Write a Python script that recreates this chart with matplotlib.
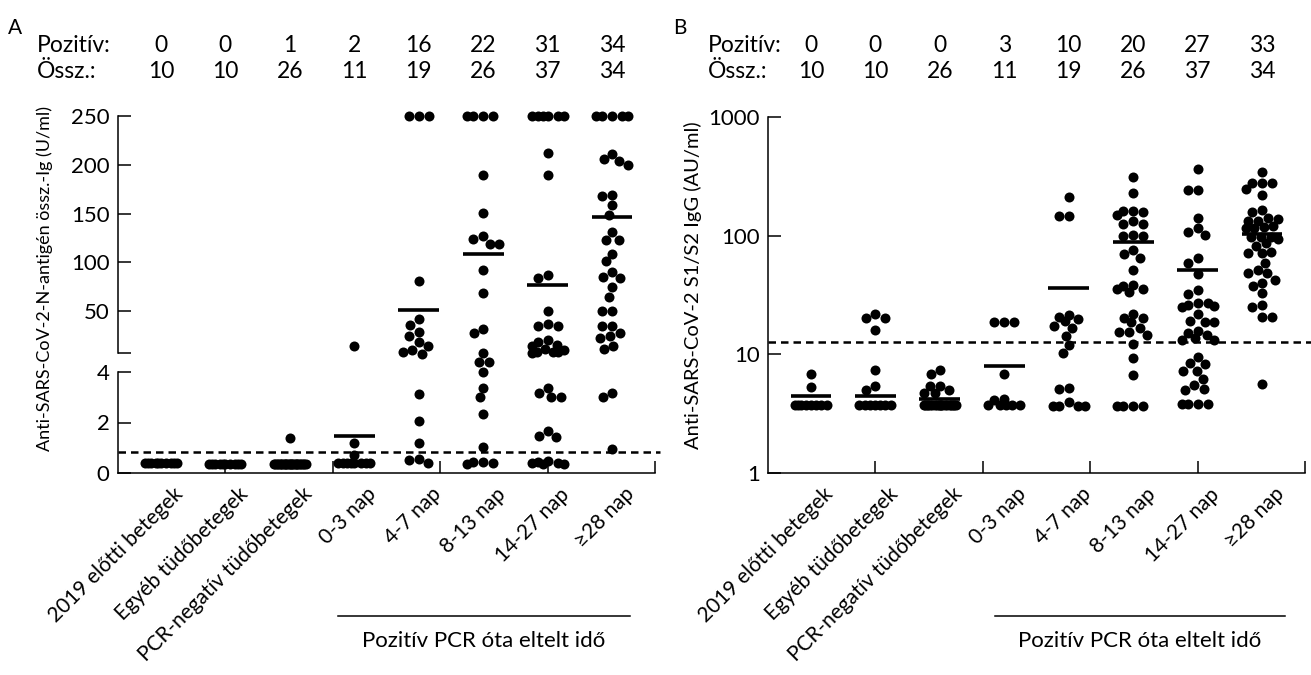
import numpy as np
import matplotlib
matplotlib.use('Agg')
import matplotlib.pyplot as plt
from matplotlib.lines import Line2D
from matplotlib.ticker import NullLocator
from matplotlib.transforms import blended_transform_factory, ScaledTranslation

plt.rcParams['font.family'] = ['Lato', 'DejaVu Sans']
plt.rcParams['axes.linewidth'] = 1.1

groups = ['2019 előtti betegek', 'Egyéb tüdőbetegek', 'PCR-negatív tüdőbetegek',
          '0-3 nap', '4-7 nap', '8-13 nap', '14-27 nap', '≥28 nap']
total_n = [10, 10, 26, 11, 19, 26, 37, 34]
a_positive = [0, 0, 1, 2, 16, 22, 31, 34]
b_positive = [0, 0, 0, 3, 10, 20, 27, 33]

# panel A: Anti-SARS-CoV-2-N-antigen total Ig (U/ml)
a_2019 = [0.40, 0.40, 0.40, 0.40, 0.40, 0.40, 0.40, 0.40, 0.40, 0.40]
a_egyeb = [0.35, 0.35, 0.35, 0.35, 0.35, 0.35, 0.35, 0.35, 0.35, 0.35]
a_pcrneg = [1.40, 0.35, 0.35, 0.35, 0.35, 0.35, 0.35, 0.35, 0.35, 0.35, 0.35, 0.35, 0.35,
            0.35, 0.35, 0.35, 0.35, 0.35, 0.35, 0.35, 0.35, 0.35, 0.35, 0.35, 0.35, 0.35]
a_0_3 = [14, 1.19, 0.70, 0.41, 0.41, 0.41, 0.41, 0.41, 0.41, 0.41, 0.41]
a_4_7 = [250, 250, 250, 81, 41.5, 35.6, 28.5, 24.4, 17.9, 14.5, 9.8, 7.6, 6.0,
         3.14, 2.04, 1.19, 0.54, 0.50, 0.40]
a_8_13 = [250, 250, 250, 250, 189.8, 150.2, 126.6, 123.5, 118.7, 118.7, 92.4, 68.8,
          31.2, 27.1, 7.3, 4.41, 4.41, 4.0, 3.38, 3.0, 2.35, 1.04, 0.42, 0.38, 0.42, 0.37]
a_14_27 = [250, 250, 250, 250, 250, 250, 212.4, 189.8, 87, 84.2, 50.3, 36.7, 35, 35,
           20.3, 18.2, 15.1, 14.4, 10.7, 9.6, 7.9, 7.9, 7.9, 6.6,
           3.16, 3.38, 3.0, 3.0, 1.47, 1.44, 1.68, 0.45, 0.38, 0.36, 0.36, 0.38, 0.48]
a_28 = [250, 250, 250, 250, 250, 211.4, 205.9, 203.8, 199.7, 169.3, 168, 158.4, 148.5,
        131, 122.8, 122.8, 109, 101, 90.5, 85.2, 84.2, 74.3, 64.4, 50.3, 50.3,
        35, 35, 27.8, 24.4, 22, 14.5, 10.7, 3.16, 3.0, 0.94]
a_means = [np.nan, np.nan, np.nan, 1.46, 50.7, 109, 76.3, 146.7]
a_cutoff = 0.83

# panel B: Anti-SARS-CoV-2 S1/S2 IgG (AU/ml)
b_2019 = [6.84, 5.33, 3.75, 3.75, 3.75, 3.75, 3.75, 3.75, 3.75, 3.75]
b_egyeb = [21.8, 20.2, 20.2, 16.0, 7.45, 5.43, 5.02, 3.75, 3.75, 3.75, 3.75, 3.75, 3.75, 3.75]
b_pcrneg = [7.45, 6.84, 5.43, 5.43, 5.02, 4.70, 4.70, 3.75, 3.75, 3.75, 3.75, 3.75, 3.75,
            3.75, 3.75, 3.75, 3.75, 3.75, 3.75, 3.75, 3.75, 3.75, 3.75, 3.75, 3.75, 3.75]
b_0_3 = [18.6, 18.6, 18.6, 6.84, 4.24, 4.12, 3.75, 3.75, 3.75, 3.75, 3.75]
b_4_7 = [210, 145.5, 145.5, 21.6, 20.5, 20.0, 19.1, 17.3, 16.6, 14.3, 11.9, 10.2, 5.24,
         5.07, 4.0, 3.69, 3.69, 3.69, 3.69]
b_8_13 = [312, 227.5, 162, 162, 157, 150, 132, 126, 125, 101, 99, 99, 75.3, 69.7, 64.9,
          51.6, 38.4, 37.8, 35.6, 35.6, 33.5, 21.7, 20.1, 20.1, 18.6, 16.7, 15.4, 15.4,
          14.5, 12.2, 9.3, 6.7, 3.7, 3.7, 3.7, 3.7]
b_14_27 = [365, 244, 244, 141.6, 115, 107, 101, 64.4, 59.2, 47.2, 34.7, 32, 26.9, 26.9,
           26, 25.5, 25.2, 21.7, 19.2, 18.8, 18.8, 15.8, 15, 14.5, 13.6, 13.2, 13.2,
           9.55, 8.4, 8.3, 7.28, 7.24, 6.17, 5.5, 5.07, 5.0, 3.8, 3.8, 3.8, 3.8]
b_28 = [344, 279, 276, 276, 248, 219, 164, 159, 140, 138, 134, 132, 120, 118, 117, 117,
        98, 98, 97, 93, 86, 82, 73, 72, 71, 59, 51, 48, 48, 42.6, 40, 37.5, 32.7,
        26.2, 24.9, 20.7, 20.7, 5.57]
b_means = [4.43, 4.43, 4.24, 7.95, 36, 88, 51.4, 104]
b_cutoff = 12.7

a_groups = [a_2019, a_egyeb, a_pcrneg, a_0_3, a_4_7, a_8_13, a_14_27, a_28]
b_groups = [b_2019, b_egyeb, b_pcrneg, b_0_3, b_4_7, b_8_13, b_14_27, b_28]

group_x = 0.4 + 0.6 * np.arange(len(groups))
W, H = 1311, 675


def swarm_offsets(py, half=16.0, d=10.0):
    # greedy beeswarm in pixels, points squeezed together when the column is full
    py = np.asarray(py, float)
    cands = np.arange(-half, half + 0.01, 0.5)
    cands = cands[np.argsort(np.abs(cands), kind='stable')]
    xs = np.zeros(len(py))
    done = []
    for i in np.argsort(-py, kind='stable'):
        if done:
            p = np.array(done)
            dist = np.hypot(cands[:, None] - p[:, 0], py[i] - p[:, 1]).min(axis=1)
            ok = np.nonzero(dist >= d)[0]
            xs[i] = cands[ok[0]] if len(ok) else cands[np.argmax(dist)]
        done.append((xs[i], py[i]))
    return xs


def to_px(ax, vals):
    v = np.asarray(vals, float)
    return ax.transData.transform(np.column_stack([np.zeros(len(v)), v]))[:, 1]


def rect(x0, x1, ytop, ybot):
    return [x0 / W, 1 - ybot / H, (x1 - x0) / W, (ybot - ytop) / H]


def style_axis(ax):
    for s in ['top', 'right']:
        ax.spines[s].set_visible(False)
    ax.tick_params(direction='in', length=9, width=1.1, labelsize=16, pad=6)
    ax.set_xlim(0, 5)


def set_xaxis(ax):
    ax.xaxis.remove_overlapping_locs = False
    ax.set_xticks([1, 2, 3, 4, 5])
    ax.set_xticklabels([''] * 5)
    ax.set_xticks(group_x, minor=True)
    ax.set_xticklabels(groups, minor=True, rotation=45, ha='right',
                       rotation_mode='anchor', fontsize=15)
    ax.tick_params(axis='x', which='minor', length=0, pad=8)
    shift = ScaledTranslation(12 / 100, 0, fig.dpi_scale_trans)
    for lbl in ax.get_xticklabels(minor=True):
        lbl.set_transform(lbl.get_transform() + shift)


fig = plt.figure(figsize=(W / 100, H / 100), dpi=100)

# ---------- panel A (broken axis) ----------
ax_up = fig.add_axes(rect(118, 655, 116, 353))
ax_lo = fig.add_axes(rect(118, 655, 372, 473))
for ax in (ax_up, ax_lo):
    style_axis(ax)
ax_up.spines['bottom'].set_visible(False)
ax_up.set_xticks([])
ax_up.set_ylim(7, 250)
ax_up.set_yticks([7, 50, 100, 150, 200, 250])
ax_up.set_yticklabels(['', '50', '100', '150', '200', '250'])
ax_lo.set_ylim(0, 4)
ax_lo.set_yticks([0, 2, 4])
set_xaxis(ax_lo)

unit_a = ax_lo.transData.transform((1, 0))[0] - ax_lo.transData.transform((0, 0))[0]
for gx, vals, m in zip(group_x, a_groups, a_means):
    v = np.asarray(vals, float)
    up = v >= 5
    py = np.where(up, to_px(ax_up, v), to_px(ax_lo, v))
    xs = gx + swarm_offsets(py) / unit_a
    ax_up.scatter(xs[up], v[up], s=52, color='black', linewidths=0, clip_on=False, zorder=3)
    ax_lo.scatter(xs[~up], v[~up], s=52, color='black', linewidths=0, clip_on=False, zorder=3)
    if not np.isnan(m):
        tgt = ax_up if m >= 5 else ax_lo
        tgt.hlines(m, gx - 0.19, gx + 0.19, color='black', lw=2.6, zorder=4)

ax_lo.plot([0, 5.05], [a_cutoff, a_cutoff], color='black', lw=1.8, dashes=(3, 2),
           clip_on=False, zorder=2)

# ---------- panel B (log axis) ----------
ax_b = fig.add_axes(rect(768, 1305, 117, 473))
style_axis(ax_b)
ax_b.set_yscale('log')
ax_b.set_ylim(1, 1000)
ax_b.set_yticks([1, 10, 100, 1000])
ax_b.set_yticklabels(['1', '10', '100', '1000'])
ax_b.yaxis.set_minor_locator(NullLocator())
set_xaxis(ax_b)

unit_b = ax_b.transData.transform((1, 1))[0] - ax_b.transData.transform((0, 1))[0]
for gx, vals, m in zip(group_x, b_groups, b_means):
    v = np.asarray(vals, float)
    xs = gx + swarm_offsets(to_px(ax_b, v)) / unit_b
    ax_b.scatter(xs, v, s=52, color='black', linewidths=0, clip_on=False, zorder=3)
    ax_b.hlines(m, gx - 0.19, gx + 0.19, color='black', lw=2.6, zorder=4)

ax_b.plot([0, 5.06], [b_cutoff, b_cutoff], color='black', lw=1.8, dashes=(3, 2),
          clip_on=False, zorder=2)

# ---------- labels and header rows ----------
fig.text(45 / W, 1 - 278 / H, 'Anti-SARS-CoV-2-N-antigén össz.-Ig (U/ml)',
         rotation=90, ha='center', va='center', fontsize=13)
fig.text(693 / W, 1 - 285 / H, 'Anti-SARS-CoV-2 S1/S2 IgG (AU/ml)',
         rotation=90, ha='center', va='center', fontsize=14.5)
fig.text(15 / W, 1 - 28 / H, 'A', ha='center', va='center', fontsize=15)
fig.text(680 / W, 1 - 28 / H, 'B', ha='center', va='center', fontsize=15)

for ax, pos, x_lbl in [(ax_lo, a_positive, 37), (ax_b, b_positive, 708)]:
    fig.text(x_lbl / W, 1 - 45 / H, 'Pozitív:', ha='left', va='center', fontsize=16.5)
    fig.text(x_lbl / W, 1 - 72 / H, 'Össz.:', ha='left', va='center', fontsize=16.5)
    tr = blended_transform_factory(ax.transData, fig.transFigure)
    for gx, p, n in zip(group_x, pos, total_n):
        ax.text(gx, 1 - 45 / H, str(p), transform=tr, ha='center', va='center', fontsize=16.5)
        ax.text(gx, 1 - 72 / H, str(n), transform=tr, ha='center', va='center', fontsize=16.5)

for x0, x1 in [(338, 630), (995, 1285)]:
    fig.add_artist(Line2D([x0 / W, x1 / W], [1 - 616 / H, 1 - 616 / H],
                          transform=fig.transFigure, color='black', lw=1.1))
    fig.text((x0 + x1) / 2 / W, 1 - 641 / H, 'Pozitív PCR óta eltelt idő',
             ha='center', va='center', fontsize=16)

fig.savefig('out.png', dpi=100)
